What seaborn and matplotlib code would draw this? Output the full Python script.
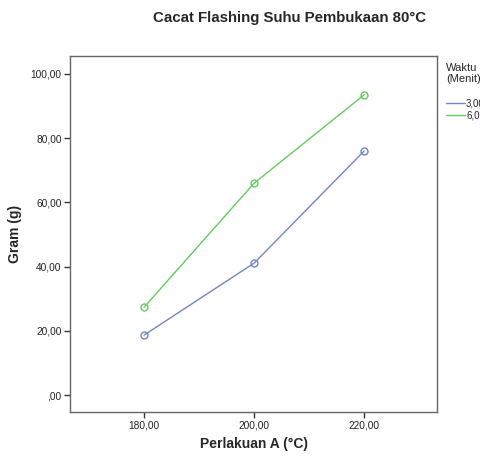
import pandas as pd
import seaborn as sns
import matplotlib.pyplot as plt
import matplotlib.ticker as mticker
from matplotlib.lines import Line2D

# data
suhu = [180, 200, 220]
waktu_3 = [18.7, 41.1, 76.0]
waktu_6 = [27.4, 66.0, 93.5]
waktu_labels = ["3,00", "6,00"]
colors = ["#7585c4", "#62cc5e"]

df = pd.DataFrame({
	"Perlakuan": suhu * 2,
	"Gram": waktu_3 + waktu_6,
	"Waktu": [waktu_labels[0]] * 3 + [waktu_labels[1]] * 3,
})

def spss_fmt(v, pos):
	s = "%.2f" % v
	s = s.replace(".", ",")
	if s.startswith("0,"):
		s = s[1:]
	return s

sns.set_style("white")
plt.rcParams["font.family"] = ["Liberation Sans", "DejaVu Sans"]

fig = plt.figure(figsize=(4.81, 4.57), dpi=100)
ax = fig.add_axes([0.1455, 0.099, 0.9090 - 0.1455, 0.8775 - 0.099])

sns.lineplot(data=df, x="Perlakuan", y="Gram", hue="Waktu",
	palette=colors, marker="o", markersize=5, linewidth=1,
	legend=False, ax=ax)
# open circle markers like SPSS
for line in ax.lines:
	line.set_markerfacecolor("none")
	line.set_markeredgecolor(line.get_color())
	line.set_markeredgewidth(1)

ax.set_xlim(166.5, 233.3)
ax.set_ylim(-5.2, 105.6)
ax.set_xticks(suhu)
ax.set_yticks([0, 20, 40, 60, 80, 100])
ax.xaxis.set_major_formatter(mticker.FuncFormatter(spss_fmt))
ax.yaxis.set_major_formatter(mticker.FuncFormatter(spss_fmt))
ax.tick_params(axis="both", which="major", direction="out", length=4,
	width=1, color="#333333", labelsize=7.3, labelcolor="#222222",
	left=True, bottom=True, pad=2)
for sp in ax.spines.values():
	sp.set_color("#666666")
	sp.set_linewidth(1)

font = dict(size=10, weight="bold")
ax.set_xlabel("Perlakuan A (°C)", fontdict=font, labelpad=5)
ax.set_ylabel("Gram (g)", fontdict=font, labelpad=6)

fig.text(290 / 481, 1 - 18 / 457, "Cacat Flashing Suhu Pembukaan 80°C",
	ha="center", va="center", fontsize=10.8, fontweight="bold")

handles = [Line2D([], [], color=c, lw=1) for c in colors]
leg = ax.legend(handles, waktu_labels, title="Waktu\n(Menit)",
	loc="upper left", bbox_to_anchor=(1.01, 0.995), frameon=False,
	fontsize=7, title_fontsize=8, handlelength=2.0, handletextpad=0.1,
	borderaxespad=0.3, labelspacing=0.2, borderpad=0.2)
leg._legend_box.align = "left"
leg._legend_box.sep = 10

fig.savefig("out.png", dpi=100)
